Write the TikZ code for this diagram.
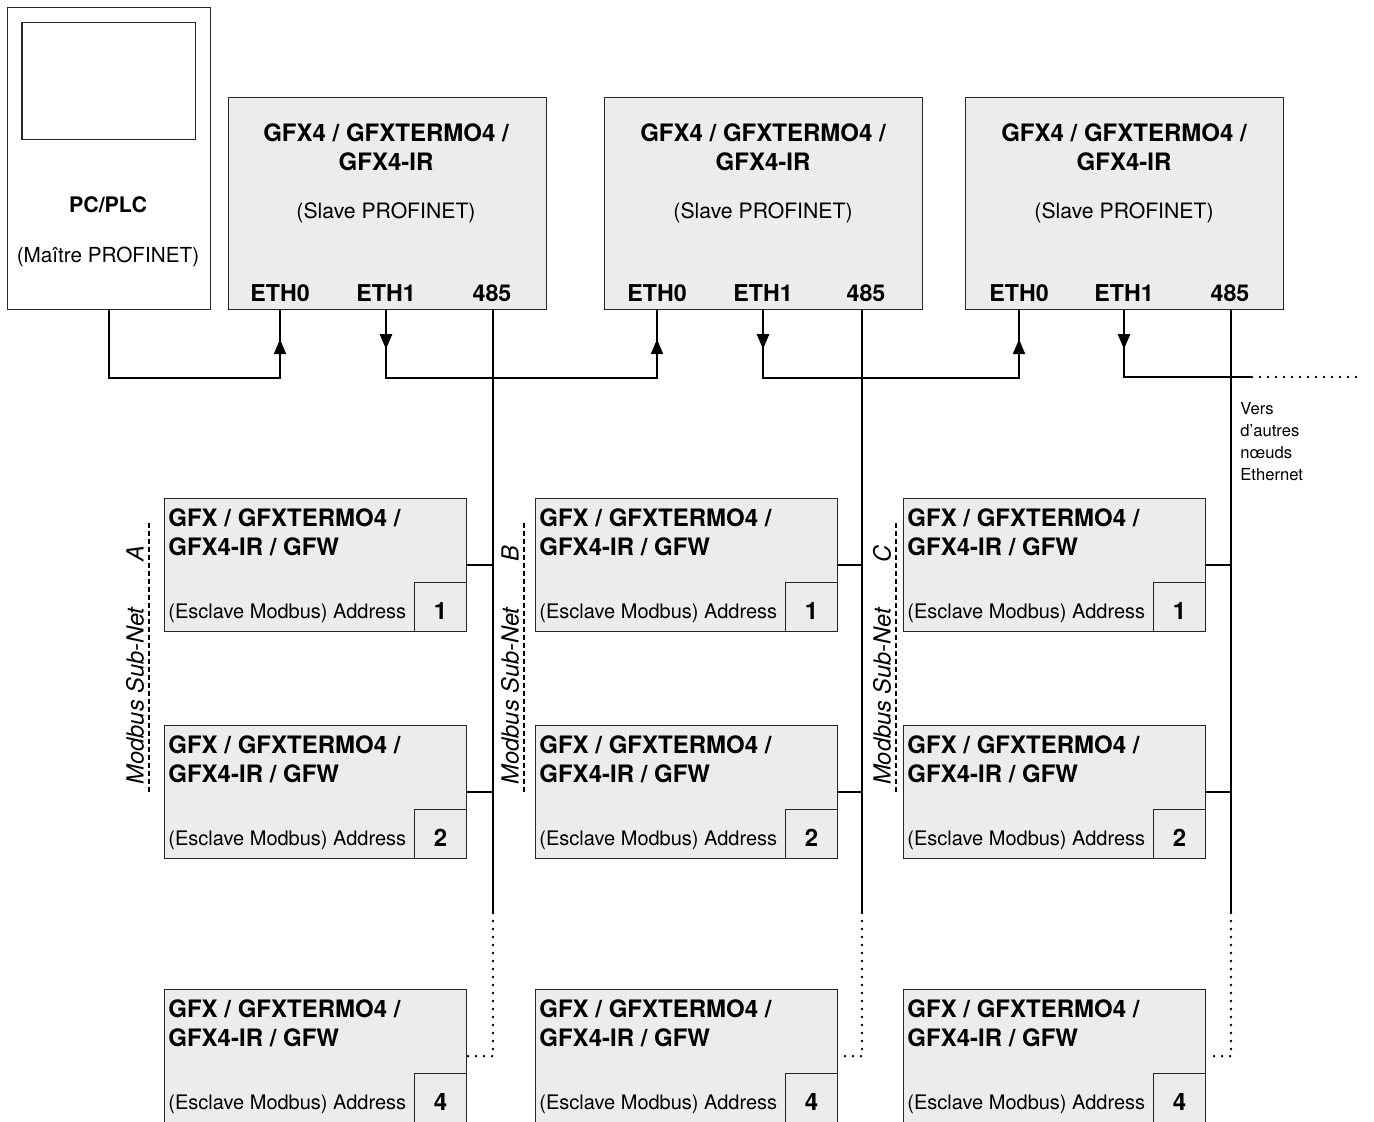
\documentclass[tikz,border=0pt]{standalone}
\usepackage{fontspec}
\setmainfont{TeX Gyre Heros}
\usetikzlibrary{arrows.meta}
\usetikzlibrary{decorations.markings}
\definecolor{boxgray}{RGB}{235,236,236}

\begin{document}
\begin{tikzpicture}[x = 0.5pt, y = -0.5pt]
	\tikzstyle{boxStyle} = [draw = black!85, line width = 0.6pt, inner sep = 0pt, anchor = north west]
	\tikzstyle{masterStyle} = [boxStyle, fill = boxgray, minimum width = 159pt, minimum height = 106pt]
	\tikzstyle{slaveStyle} = [boxStyle, fill = boxgray, minimum width = 151pt, minimum height = 66.5pt]
	\tikzstyle{addrStyle} = [draw = black!85, line width = 0.6pt, fill = boxgray, anchor = south east, minimum width = 26pt, minimum height = 24.5pt, inner sep = 0pt, text height = 12.4pt, text depth = 0pt, font = \fontsize{12}{14}\selectfont\bfseries]
	\tikzstyle{titleStyle} = [inner sep = 0pt, align = center, anchor = north, font = \fontsize{12}{14.5}\selectfont\bfseries]
	\tikzstyle{slaveTitleStyle} = [inner sep = 0pt, align = left, anchor = north west, font = \fontsize{12}{14.5}\selectfont\bfseries]
	\tikzstyle{portStyle} = [inner sep = 0pt, anchor = base, font = \fontsize{11.6}{14}\selectfont\bfseries]
	\tikzstyle{noteStyle} = [inner sep = 0pt, anchor = base, font = \fontsize{10.6}{13}\selectfont]
	\tikzstyle{addrTextStyle} = [inner sep = 0pt, anchor = base west, font = \fontsize{10}{12}\selectfont]
	\tikzstyle{subnetStyle} = [inner sep = 0pt, rotate = 90, font = \fontsize{11.8}{14}\selectfont\itshape]
	\tikzstyle{smallStyle} = [inner sep = 0pt, align = left, anchor = north west, font = \fontsize{8.3}{11}\selectfont]
	\tikzstyle{linkStyle} = [line width = 1.1pt]
	\tikzstyle{dotStyle} = [line width = 1.3pt, line cap = round, dash pattern = on 0pt off 4pt]
	\tikzstyle{subnetLine} = [line width = 0.9pt, dash pattern = on 2.5pt off 1.5pt]
	\tikzstyle{upArrow} = [postaction = {decorate, decoration = {markings, mark = at position -14.5pt with {\arrow{Triangle[width = 6pt, length = 7.5pt]}}}}]
	\tikzstyle{downArrow} = [postaction = {decorate, decoration = {markings, mark = at position 19.5pt with {\arrow{Triangle[width = 6pt, length = 7.5pt]}}}}]
	\useasboundingbox (0, 0) rectangle (1374, 1122);
	% PC / PLC
	\node[boxStyle, fill = white, minimum width = 101.75pt, minimum height = 151pt] (pc) at (6.5, 7) {};
	\node[boxStyle, fill = white, minimum width = 86.6pt, minimum height = 58.5pt] (screen) at (21.4, 22) {};
	\node[noteStyle, font = \fontsize{10.7}{13}\selectfont\bfseries] (pcName) at (108, 213) {PC/PLC};
	\node[noteStyle, font = \fontsize{10.35}{13}\selectfont] (pcRole) at (108, 263) {(Maître PROFINET)};
	% PROFINET slaves
	\node[masterStyle] (m1) at (227.5, 97) {};
	\node[masterStyle] (m2) at (604, 97) {};
	\node[masterStyle] (m3) at (965, 97) {};
	\node[titleStyle] (m1Title) at (386, 123) {GFX4 / GFXTERMO4 /\\GFX4-IR};
	\node[titleStyle] (m2Title) at (763, 123) {GFX4 / GFXTERMO4 /\\GFX4-IR};
	\node[titleStyle] (m3Title) at (1124, 123) {GFX4 / GFXTERMO4 /\\GFX4-IR};
	\node[noteStyle] (m1Role) at (386, 219) {(Slave PROFINET)};
	\node[noteStyle] (m2Role) at (763, 219) {(Slave PROFINET)};
	\node[noteStyle] (m3Role) at (1124, 219) {(Slave PROFINET)};
	\node[portStyle] (m1e0) at (280, 302) {ETH0};
	\node[portStyle] (m1e1) at (386, 302) {ETH1};
	\node[portStyle] (m1p) at (492, 302) {485};
	\node[portStyle] (m2e0) at (657, 302) {ETH0};
	\node[portStyle] (m2e1) at (763, 302) {ETH1};
	\node[portStyle] (m2p) at (866, 302) {485};
	\node[portStyle] (m3e0) at (1019, 302) {ETH0};
	\node[portStyle] (m3e1) at (1124, 302) {ETH1};
	\node[portStyle] (m3p) at (1230, 302) {485};
	% Ethernet chain
	\coordinate (busEnd) at (1252, 377);
	\draw[linkStyle, upArrow] (pc.south) -- ++(0, 68) -| (m1e0 |- m1.south);
	\draw[linkStyle, downArrow, upArrow] (m1e1 |- m1.south) -- ++(0, 68) -| (m2e0 |- m2.south);
	\draw[linkStyle, downArrow, upArrow] (m2e1 |- m2.south) -- ++(0, 68) -| (m3e0 |- m3.south);
	\draw[linkStyle, downArrow] (m3e1 |- m3.south) |- (busEnd);
	\draw[dotStyle] (busEnd) -- ++(110, 0);
	\node[smallStyle] (vers) at (1240, 402) {Vers\\d’autres\\nœuds\\Ethernet};
	% Modbus slaves
	\node[slaveStyle] (sA1) at (164, 498) {};
	\node[slaveStyle] (sA2) at (164, 725) {};
	\node[slaveStyle] (sA4) at (164, 989) {};
	\node[slaveStyle] (sB1) at (535, 498) {};
	\node[slaveStyle] (sB2) at (535, 725) {};
	\node[slaveStyle] (sB4) at (535, 989) {};
	\node[slaveStyle] (sC1) at (903, 498) {};
	\node[slaveStyle] (sC2) at (903, 725) {};
	\node[slaveStyle] (sC4) at (903, 989) {};
	\node[slaveTitleStyle] (sA1Title) at (168, 508) {GFX / GFXTERMO4 /\\GFX4-IR / GFW};
	\node[slaveTitleStyle] (sA2Title) at (168, 735) {GFX / GFXTERMO4 /\\GFX4-IR / GFW};
	\node[slaveTitleStyle] (sA4Title) at (168, 999) {GFX / GFXTERMO4 /\\GFX4-IR / GFW};
	\node[slaveTitleStyle] (sB1Title) at (539, 508) {GFX / GFXTERMO4 /\\GFX4-IR / GFW};
	\node[slaveTitleStyle] (sB2Title) at (539, 735) {GFX / GFXTERMO4 /\\GFX4-IR / GFW};
	\node[slaveTitleStyle] (sB4Title) at (539, 999) {GFX / GFXTERMO4 /\\GFX4-IR / GFW};
	\node[slaveTitleStyle] (sC1Title) at (907, 508) {GFX / GFXTERMO4 /\\GFX4-IR / GFW};
	\node[slaveTitleStyle] (sC2Title) at (907, 735) {GFX / GFXTERMO4 /\\GFX4-IR / GFW};
	\node[slaveTitleStyle] (sC4Title) at (907, 999) {GFX / GFXTERMO4 /\\GFX4-IR / GFW};
	\node[addrTextStyle] (sA1Text) at (168, 618) {(Esclave Modbus) Address};
	\node[addrTextStyle] (sA2Text) at (168, 845) {(Esclave Modbus) Address};
	\node[addrTextStyle] (sA4Text) at (168, 1109) {(Esclave Modbus) Address};
	\node[addrTextStyle] (sB1Text) at (539, 618) {(Esclave Modbus) Address};
	\node[addrTextStyle] (sB2Text) at (539, 845) {(Esclave Modbus) Address};
	\node[addrTextStyle] (sB4Text) at (539, 1109) {(Esclave Modbus) Address};
	\node[addrTextStyle] (sC1Text) at (907, 618) {(Esclave Modbus) Address};
	\node[addrTextStyle] (sC2Text) at (907, 845) {(Esclave Modbus) Address};
	\node[addrTextStyle] (sC4Text) at (907, 1109) {(Esclave Modbus) Address};
	\node[addrStyle] (aA1) at (sA1.south east) {1};
	\node[addrStyle] (aA2) at (sA2.south east) {2};
	\node[addrStyle] (aA4) at (sA4.south east) {4};
	\node[addrStyle] (aB1) at (sB1.south east) {1};
	\node[addrStyle] (aB2) at (sB2.south east) {2};
	\node[addrStyle] (aB4) at (sB4.south east) {4};
	\node[addrStyle] (aC1) at (sC1.south east) {1};
	\node[addrStyle] (aC2) at (sC2.south east) {2};
	\node[addrStyle] (aC4) at (sC4.south east) {4};
	% RS485 lines
	\coordinate (endA) at (493, 913);
	\coordinate (endB) at (862, 913);
	\coordinate (endC) at (1231, 913);
	\draw[linkStyle] (endA |- m1.south) -- (endA);
	\draw[linkStyle] (endB |- m2.south) -- (endB);
	\draw[linkStyle] (endC |- m3.south) -- (endC);
	\draw[linkStyle] (sA1.east) -- (sA1.east -| endA);
	\draw[linkStyle] (sA2.east) -- (sA2.east -| endA);
	\draw[linkStyle] (sB1.east) -- (sB1.east -| endB);
	\draw[linkStyle] (sB2.east) -- (sB2.east -| endB);
	\draw[linkStyle] (sC1.east) -- (sC1.east -| endC);
	\draw[linkStyle] (sC2.east) -- (sC2.east -| endC);
	\draw[dotStyle] (endA) |- (sA4.east);
	\draw[dotStyle] (endB) |- (sB4.east);
	\draw[dotStyle] (endC) |- (sC4.east);
	% sub-net labels
	\node[subnetStyle] (netA) at (135, 665) {Modbus Sub-Net\hspace{23pt}A};
	\node[subnetStyle] (netB) at (510, 665) {Modbus Sub-Net\hspace{23pt}B};
	\node[subnetStyle] (netC) at (882, 665) {Modbus Sub-Net\hspace{23pt}C};
	\draw[subnetLine] (149, 523) -- (149, 792);
	\draw[subnetLine] (524, 523) -- (524, 792);
	\draw[subnetLine] (896, 523) -- (896, 792);
\end{tikzpicture}
\end{document}
